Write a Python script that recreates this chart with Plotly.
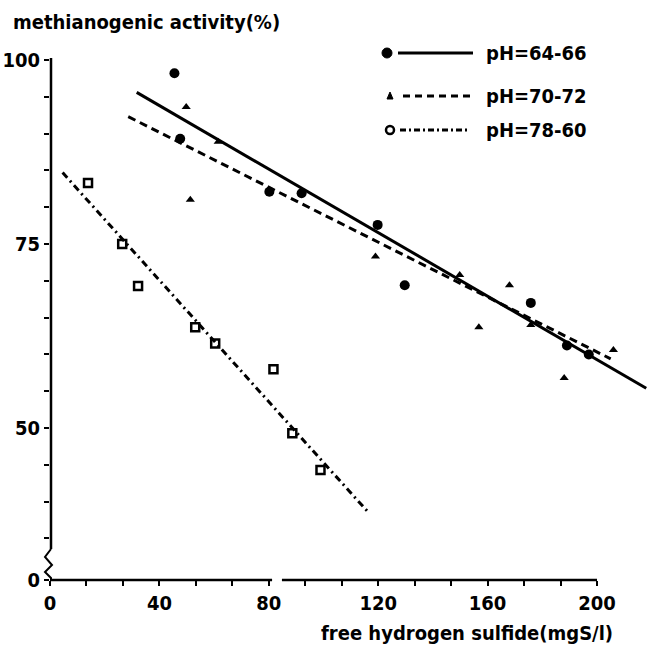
import plotly.graph_objects as go

# ---- data ----
ph64_x = [45.5, 47.6, 80.2, 92.0, 119.8, 129.7, 175.8, 189.0, 197.0]
ph64_y = [98.2, 89.3, 82.1, 81.9, 77.6, 69.4, 67.0, 61.2, 60.0]

ph70_x = [49.8, 61.5, 51.3, 119.0, 149.8, 168.0, 156.8, 175.8, 188.0, 206.0]
ph70_y = [93.6, 88.9, 81.0, 73.3, 70.8, 69.4, 63.7, 64.0, 56.8, 60.6]

ph78_x = [13.9, 26.4, 32.2, 53.1, 60.4, 81.7, 88.6, 98.9]
ph78_y = [83.3, 75.0, 69.3, 63.7, 61.5, 58.0, 49.3, 44.3]

fit64_x = [31.7, 218.0]
fit64_y = [95.6, 55.4]
fit70_x = [28.6, 205.0]
fit70_y = [92.3, 59.4]
fit78_x = [4.6, 116.5]
fit78_y = [84.7, 38.5]

series_names = ["pH=64-66", "pH=70-72", "pH=78-60"]

x_major = [0, 40, 80, 120, 160, 200]
y_break = 29.35          # position where the broken axis shows "0"
y_ticks = [y_break, 50, 75, 100]
y_ticktext = ["0", "50", "75", "100"]

# ---- layout geometry ----
W, H = 648, 653
ML, MR, MT, MB = 50, 0, 40, 73
PW, PH = W - ML - MR, H - MT - MB
XPX = 2.735   # px per x unit
YPX = 7.36    # px per y unit
x_range = [0, PW / XPX]
y_range = [y_break, y_break + PH / YPX]

FONT = "Liberation Sans Narrow, DejaVu Sans Condensed, Arial Narrow, sans-serif"

def px(x):
    return (x - ML) / PW

def py(y):
    return (H - MB - y) / PH

fig = go.Figure()

# fitted lines
fig.add_trace(go.Scatter(x=fit64_x, y=fit64_y, mode="lines",
                         line=dict(color="black", width=3), showlegend=False))
fig.add_trace(go.Scatter(x=fit70_x, y=fit70_y, mode="lines",
                         line=dict(color="black", width=3, dash="8px,5px"), showlegend=False))
fig.add_trace(go.Scatter(x=fit78_x, y=fit78_y, mode="lines",
                         line=dict(color="black", width=3, dash="7px,4px,2px,4px"), showlegend=False))

# points
fig.add_trace(go.Scatter(x=ph64_x, y=ph64_y, mode="markers", name=series_names[0],
                         marker=dict(symbol="circle", size=10, color="black"), showlegend=False))
fig.add_trace(go.Scatter(x=ph70_x, y=ph70_y, mode="markers", name=series_names[1],
                         marker=dict(symbol="triangle-up", size=8, color="black"), showlegend=False))
fig.add_trace(go.Scatter(x=ph78_x, y=ph78_y, mode="markers", name=series_names[2],
                         marker=dict(symbol="square-open", size=8, color="black",
                                     line=dict(width=2.5, color="black")), showlegend=False))

shapes = []
# y axis line (from 100 down to the break squiggle)
ax = px(51)
shapes.append(dict(type="line", xref="paper", yref="paper",
                   x0=ax, x1=ax, y0=py(58), y1=py(549),
                   line=dict(color="black", width=2.5)))
sq = [(51, 549), (45, 557), (52, 565), (45, 572), (51, 578), (51, 580)]
path = "M " + " L ".join(f"{px(a):.5f},{py(b):.5f}" for a, b in sq)
shapes.append(dict(type="path", xref="paper", yref="paper", path=path,
                   line=dict(color="black", width=2)))
# x axis line with small gap after 80
gap0, gap1 = 81.2, 84.8
shapes.append(dict(type="line", xref="x", yref="paper", x0=0, x1=gap0, y0=0, y1=0,
                   line=dict(color="black", width=2.5)))
shapes.append(dict(type="line", xref="x", yref="paper", x0=gap1, x1=200, y0=0, y1=0,
                   line=dict(color="black", width=2.5)))

# custom legend
rows = [53, 96, 130]
# row 1: filled circle + solid line
shapes.append(dict(type="circle", xref="paper", yref="paper",
                   x0=px(382), x1=px(392), y0=py(58), y1=py(48),
                   fillcolor="black", line=dict(color="black", width=1)))
shapes.append(dict(type="line", xref="paper", yref="paper",
                   x0=px(398), x1=px(473), y0=py(rows[0]), y1=py(rows[0]),
                   line=dict(color="black", width=3)))
# row 2: small triangle + dashed
tri = [(390, rows[1] - 4), (393, rows[1] + 3), (387, rows[1] + 3)]
shapes.append(dict(type="path", xref="paper", yref="paper",
                   path="M " + " L ".join(f"{px(a):.5f},{py(b):.5f}" for a, b in tri) + " Z",
                   fillcolor="black", line=dict(color="black", width=1)))
shapes.append(dict(type="line", xref="paper", yref="paper",
                   x0=px(403), x1=px(472), y0=py(rows[1]), y1=py(rows[1]),
                   line=dict(color="black", width=3, dash="7px,5px")))
# row 3: open circle + dash-dot
shapes.append(dict(type="circle", xref="paper", yref="paper",
                   x0=px(386), x1=px(394), y0=py(rows[2] + 4), y1=py(rows[2] - 4),
                   line=dict(color="black", width=2.5)))
shapes.append(dict(type="line", xref="paper", yref="paper",
                   x0=px(400), x1=px(470), y0=py(rows[2]), y1=py(rows[2]),
                   line=dict(color="black", width=3, dash="6px,3px,2px,3px")))

annotations = []
for r, name in zip(rows, series_names):
    annotations.append(dict(text=name, xref="paper", yref="paper",
                            x=px(484), y=py(r), xanchor="left", yanchor="middle",
                            showarrow=False,
                            font=dict(family=FONT, size=20, color="black", weight="bold")))
annotations.append(dict(text="methianogenic activity(%)", xref="paper", yref="paper",
                        x=px(11), y=py(22), xanchor="left", yanchor="middle",
                        showarrow=False,
                        font=dict(family=FONT, size=20, color="black", weight="bold")))
annotations.append(dict(text="free hydrogen sulfide(mgS/l)", xref="paper", yref="paper",
                        x=px(615), y=py(633), xanchor="right", yanchor="middle",
                        showarrow=False,
                        font=dict(family=FONT, size=20, color="black", weight="bold")))

x_minor = [round(i * 40 / 3, 3) for i in range(16) if i % 3 != 0]
y_minor = [35, 40, 45, 55, 60, 65, 70, 80, 85, 90, 95]

fig.update_layout(
    width=W, height=H,
    margin=dict(l=ML, r=MR, t=MT, b=MB),
    paper_bgcolor="white", plot_bgcolor="white",
    shapes=shapes, annotations=annotations,
    xaxis=dict(range=x_range, showgrid=False, zeroline=False, showline=False,
               tickmode="array", tickvals=x_major,
               ticks="outside", ticklen=5, tickwidth=2, tickcolor="black",
               minor=dict(tickmode="array", tickvals=x_minor, ticks="outside",
                          ticklen=5, tickwidth=2, tickcolor="black", showgrid=False),
               tickfont=dict(family=FONT, size=20, color="black", weight="bold")),
    yaxis=dict(range=y_range, showgrid=False, zeroline=False, showline=False,
               tickmode="array", tickvals=y_ticks, ticktext=y_ticktext,
               ticks="outside", ticklen=5, tickwidth=2, tickcolor="black",
               minor=dict(tickmode="array", tickvals=y_minor, ticks="outside",
                          ticklen=5, tickwidth=2, tickcolor="black", showgrid=False),
               tickfont=dict(family=FONT, size=20, color="black", weight="bold")),
    showlegend=False,
)

fig.write_html("out.html")
